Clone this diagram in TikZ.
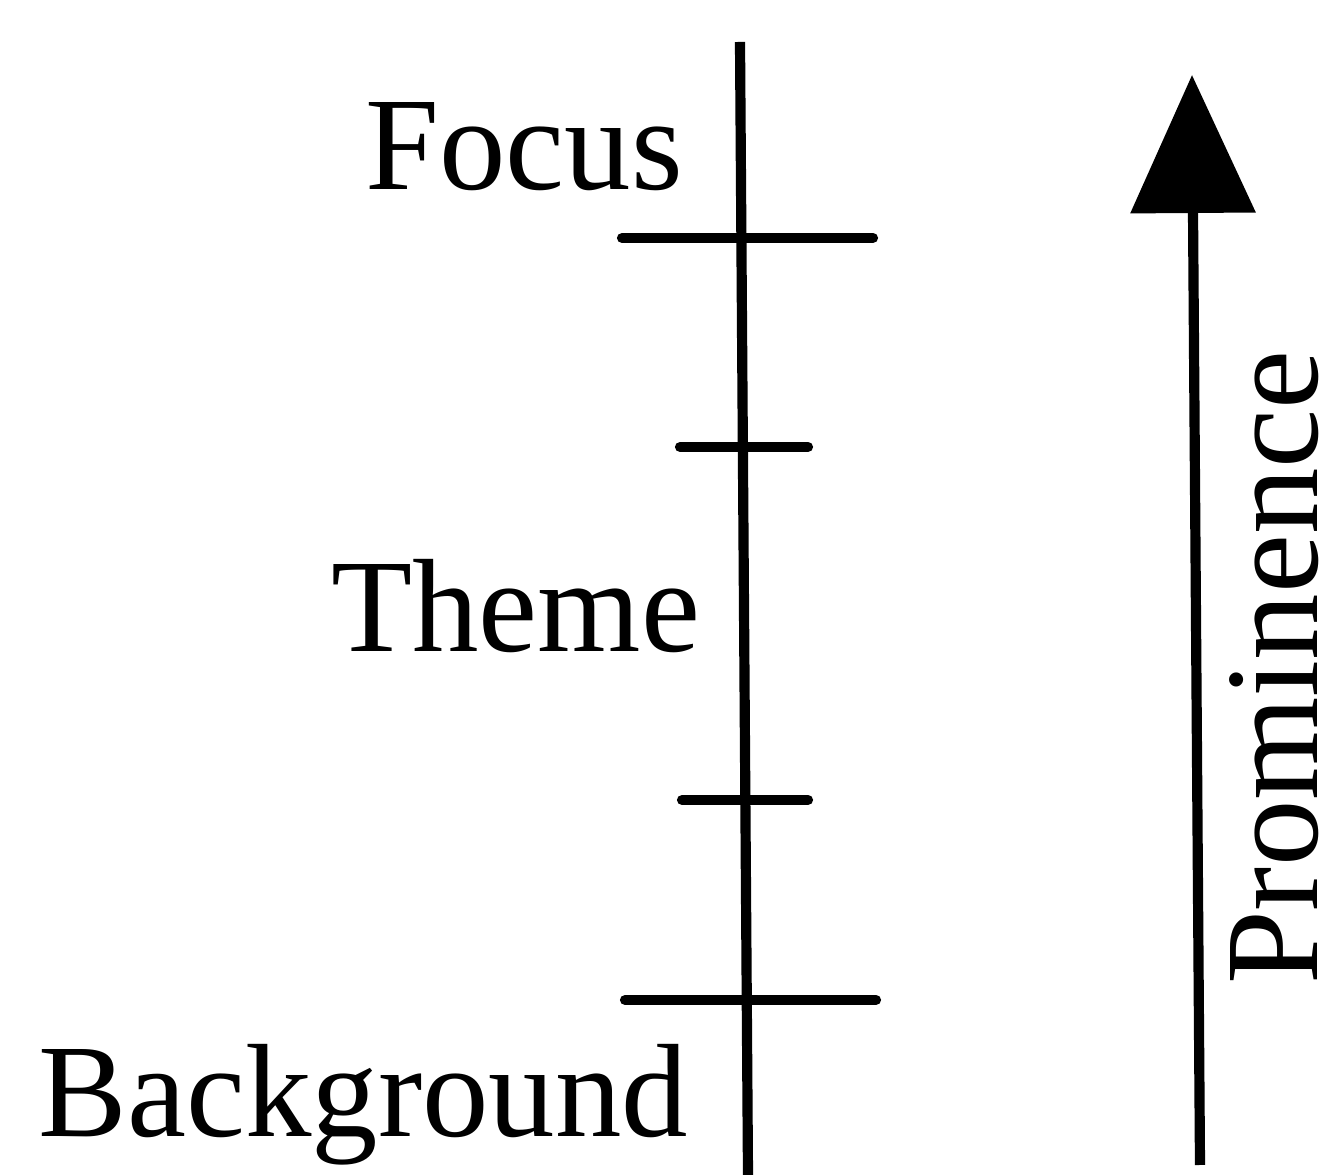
\documentclass[tikz,border=0pt]{standalone}
\usepackage{fontspec}
\setmainfont{Liberation Serif}
\usetikzlibrary{arrows.meta}
\tikzset{
  tick/.style={line width=2.9pt, line cap=round},
  lbl/.style={font=\fontsize{37.8}{40}\selectfont, inner sep=0pt, anchor=base east}
}
\begin{document}
\begin{tikzpicture}[line width=2.9pt]
  \useasboundingbox (0,0) rectangle (13.42,11.75);
  % scale axis
  \coordinate (top) at (7.40,11.33);
  \coordinate (bot) at (7.48,0.00);
  \draw (top) -- (bot);
  \coordinate (t1l) at (6.22,9.37); \coordinate (t1r) at (8.73,9.37);
  \coordinate (t2l) at (6.80,7.28); \coordinate (t2r) at (8.08,7.28);
  \coordinate (t3l) at (6.82,3.75); \coordinate (t3r) at (8.08,3.75);
  \coordinate (t4l) at (6.25,1.75); \coordinate (t4r) at (8.76,1.75);
  \draw[tick] (t1l) -- (t1r);
  \draw[tick] (t2l) -- (t2r);
  \draw[tick] (t3l) -- (t3r);
  \draw[tick] (t4l) -- (t4r);
  \node[lbl] (focus) at (6.88,9.85) {Focus};
  \node[lbl] (theme) at (7.05,5.23) {Theme};
  \node[lbl] (background) at (6.93,0.38) {Background};
  % prominence arrow
  \coordinate (pbot) at (12.00,0.10);
  \coordinate (ptop) at (11.92,11.00);
  \draw[-{Triangle[width=1.23cm,length=1.38cm]}] (pbot) -- (ptop);
  \node[lbl, rotate=90, anchor=base west] (prom) at (13.17,1.85) {Prominence};
\end{tikzpicture}
\end{document}
